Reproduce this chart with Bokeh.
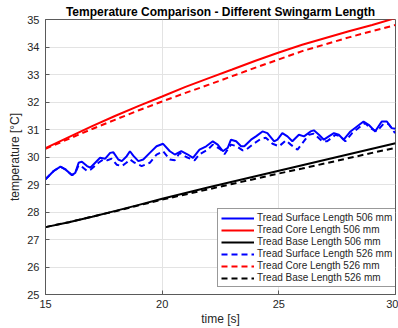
from bokeh.plotting import figure
from bokeh.models import Range1d, FixedTicker, Legend, LegendItem
from bokeh.embed import file_html
from bokeh.resources import INLINE

# ---------------- data ----------------
t_smooth = [15, 16, 17, 18, 19, 20, 21, 22, 23, 24, 25, 26, 27, 28, 29, 30]
core_506 = [30.32, 30.72, 31.12, 31.50, 31.86, 32.20, 32.55, 32.87, 33.18, 33.50,
            33.80, 34.08, 34.33, 34.57, 34.80, 35.05]
core_526 = [30.30, 30.66, 31.02, 31.36, 31.70, 32.02, 32.33, 32.63, 32.94, 33.25,
            33.55, 33.85, 34.10, 34.35, 34.58, 34.80]
base_506 = [27.45, 27.63, 27.83, 28.04, 28.26, 28.48, 28.69, 28.90, 29.10, 29.30,
            29.50, 29.70, 29.90, 30.10, 30.30, 30.50]
base_526 = [27.45, 27.63, 27.83, 28.03, 28.24, 28.45, 28.64, 28.83, 29.02, 29.21,
            29.40, 29.58, 29.77, 29.96, 30.15, 30.33]

t_surf_506 = [15.0, 15.14, 15.35, 15.64, 15.85, 16.14, 16.28, 16.42, 16.56, 16.78,
              16.92, 17.13, 17.34, 17.56, 17.77, 17.91, 18.12, 18.27, 18.48, 18.62,
              18.76, 18.98, 19.19, 19.47, 19.76, 20.04, 20.33, 20.54, 20.82, 21.1,
              21.32, 21.6, 21.89, 22.17, 22.38, 22.6, 22.81, 22.95, 23.17, 23.38,
              23.52, 23.81, 24.02, 24.3, 24.51, 24.8, 24.94, 25.15, 25.37, 25.58,
              25.86, 26.08, 26.36, 26.5, 26.72, 26.93, 27.14, 27.36, 27.57, 27.78,
              28.07, 28.35, 28.63, 28.85, 29.13, 29.41, 29.63, 29.84, 30.0]
surf_506 = [29.19, 29.31, 29.49, 29.65, 29.55, 29.34, 29.43, 29.79, 29.83, 29.67,
            29.61, 29.79, 29.97, 29.94, 30.15, 30.17, 29.91, 29.85, 30.03, 30.21,
            30.05, 29.85, 29.91, 30.15, 30.39, 30.48, 30.21, 30.09, 30.21, 30.09,
            29.97, 30.27, 30.39, 30.57, 30.45, 30.21, 30.33, 30.63, 30.57, 30.39,
            30.39, 30.63, 30.75, 30.93, 30.87, 30.57, 30.63, 30.87, 30.75, 30.57,
            30.81, 30.75, 30.93, 30.97, 30.81, 30.63, 30.75, 30.87, 30.81, 30.63,
            30.93, 31.11, 31.29, 31.17, 30.93, 31.29, 31.29, 31.05, 31.03]

t_surf_526 = [15.0, 15.14, 15.35, 15.64, 15.85, 16.14, 16.28, 16.42, 16.6, 16.78,
              16.95, 17.27, 17.48, 17.65, 17.84, 18.05, 18.27, 18.45, 18.62, 18.8,
              19.12, 19.47, 19.76, 20.04, 20.33, 20.54, 20.75, 21.03, 21.39, 21.6,
              21.96, 22.17, 22.52, 22.67, 22.95, 23.17, 23.45, 23.6, 23.95, 24.23,
              24.44, 24.73, 25.01, 25.3, 25.51, 25.8, 26.29, 26.5, 26.86, 27.07,
              27.43, 27.64, 27.85, 28.14, 28.5, 28.7, 28.92, 29.2, 29.48, 29.7, 29.98]
surf_526 = [29.19, 29.31, 29.49, 29.65, 29.55, 29.34, 29.43, 29.70, 29.62, 29.49,
            29.55, 29.79, 29.91, 29.88, 29.94, 29.72, 29.67, 29.78, 29.91, 29.80,
            29.67, 29.79, 30.09, 30.21, 29.91, 29.88, 30.15, 30.00, 29.88, 30.10,
            30.27, 30.45, 30.27, 30.10, 30.45, 30.40, 30.24, 30.27, 30.50, 30.66,
            30.70, 30.48, 30.39, 30.60, 30.45, 30.27, 30.81, 30.85, 30.57, 30.57,
            30.81, 30.75, 30.57, 30.87, 31.11, 31.23, 31.05, 30.93, 31.20, 31.20, 30.87]

x_ticks = [15, 20, 25, 30]
y_ticks = [25, 26, 27, 28, 29, 30, 31, 32, 33, 34, 35]

labels = ["Tread Surface Length 506 mm", "Tread Core Length 506 mm",
          "Tread Base Length 506 mm", "Tread Surface Length 526 mm",
          "Tread Core Length 526 mm", "Tread Base Length 526 mm"]

# ---------------- figure ----------------
FONT = "Liberation Sans"
AX = "#5a5a5a"
TXT = "#262626"

p = figure(width=398, height=328, output_backend="svg", toolbar_location=None,
           x_range=Range1d(15, 30), y_range=Range1d(25, 35),
           title="Temperature Comparison - Different Swingarm Length",
           min_border_left=45, min_border_right=3, min_border_top=19,
           min_border_bottom=32)
p.background_fill_color = "white"
p.border_fill_color = "white"
p.outline_line_color = AX
p.outline_line_width = 1

p.title.text_font = FONT
p.title.text_font_size = "12px"
p.title.text_font_style = "bold"
p.title.text_color = "#000000"
p.title.align = "center"
p.title.standoff = 2

for ax, ticks in ((p.xaxis[0], x_ticks), (p.yaxis[0], y_ticks)):
    ax.ticker = FixedTicker(ticks=ticks)
    ax.axis_line_color = AX
    ax.major_tick_line_color = AX
    ax.major_tick_in = 4
    ax.major_tick_out = 0
    ax.minor_tick_line_color = None
    ax.major_label_text_font = FONT
    ax.major_label_text_font_size = "11px"
    ax.major_label_text_color = TXT
    ax.axis_label_text_font = FONT
    ax.axis_label_text_font_size = "12px"
    ax.axis_label_text_font_style = "normal"
    ax.axis_label_text_color = TXT

p.xaxis.major_label_standoff = 5
p.xaxis.axis_label_standoff = 1
p.yaxis.major_label_standoff = 6
p.yaxis.axis_label_standoff = 2

p.xaxis.axis_label = "time [s]"
p.yaxis.axis_label = "temperature [°C]"

p.xgrid.grid_line_color = "#e3e3e3"
p.ygrid.grid_line_color = "#e3e3e3"
p.xgrid.ticker = FixedTicker(ticks=x_ticks)
p.ygrid.ticker = FixedTicker(ticks=y_ticks)

LW = 2
DASH = "6 4"
r1 = p.line(t_surf_506, surf_506, line_color="#0000ff", line_width=LW)
r2 = p.line(t_smooth, core_506, line_color="#ff0000", line_width=LW)
r3 = p.line(t_smooth, base_506, line_color="#000000", line_width=LW)
r4 = p.line(t_surf_526, surf_526, line_color="#0000ff", line_width=LW, line_dash=DASH)
r5 = p.line(t_smooth, core_526, line_color="#ff0000", line_width=LW, line_dash=DASH)
r6 = p.line(t_smooth, base_526, line_color="#000000", line_width=LW, line_dash=DASH)

legend = Legend(items=[LegendItem(label=l, renderers=[r]) for l, r in
                       zip(labels, [r1, r2, r3, r4, r5, r6])],
                location=(172, 7), label_text_font=FONT, label_text_font_size="10px",
                label_text_color=TXT, label_height=10, glyph_height=10, glyph_width=33,
                label_standoff=3, spacing=1, padding=3, margin=0,
                border_line_color="#333333", border_line_width=1,
                background_fill_color="white", background_fill_alpha=1)
p.add_layout(legend, "center")

open("out.html", "w").write(file_html(p, INLINE))
